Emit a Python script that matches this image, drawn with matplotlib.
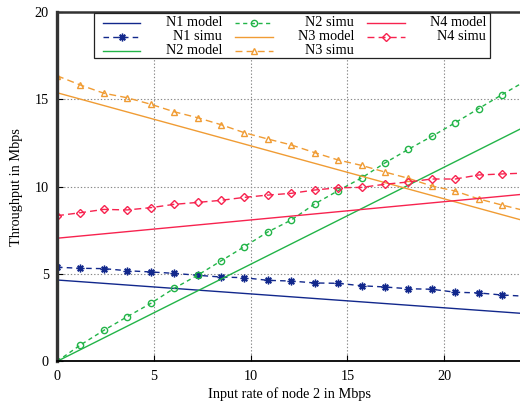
import matplotlib.pyplot as plt
from matplotlib.patches import Rectangle
from matplotlib.lines import Line2D

plt.rcParams['font.family'] = ['Liberation Serif', 'DejaVu Serif']
plt.rcParams['font.size'] = 10.3

# ---- data ----
x_simu = [0, 1.21, 2.42, 3.63, 4.84, 6.05, 7.26, 8.47, 9.68, 10.89, 12.1,
          13.31, 14.52, 15.73, 16.94, 18.15, 19.36, 20.57, 21.78, 22.99, 24.2]
n1_simu = [5.39, 5.33, 5.31, 5.19, 5.12, 5.04, 4.93, 4.83, 4.79, 4.64, 4.60,
           4.49, 4.47, 4.33, 4.26, 4.16, 4.13, 3.96, 3.92, 3.80, 3.73]
n2_simu = [0.0, 0.94, 1.78, 2.56, 3.32, 4.18, 4.93, 5.75, 6.57, 7.41, 8.09,
           9.01, 9.77, 10.50, 11.36, 12.14, 12.88, 13.66, 14.47, 15.27, 16.05]
n3_simu = [16.35, 15.82, 15.35, 15.09, 14.72, 14.29, 13.95, 13.55, 13.09, 12.73, 12.39,
           11.95, 11.53, 11.22, 10.84, 10.48, 10.04, 9.75, 9.30, 8.95, 8.62]
n4_simu = [8.34, 8.51, 8.70, 8.67, 8.80, 8.99, 9.10, 9.22, 9.39, 9.52, 9.62,
           9.81, 9.94, 9.96, 10.14, 10.27, 10.44, 10.44, 10.67, 10.73, 10.78]

x_model = [0, 24]
n1_model = [4.66, 2.75]
n2_model = [0.0, 13.34]
n3_model = [15.38, 8.09]
n4_model = [7.05, 9.56]

c1, c2, c3, c4 = '#12288c', '#22b448', '#f09c34', '#f7234f'
msz = {(8, 2, 0): 5.5, 'o': 4.5, '^': 5, 'D': 3.8}

W, H = 520, 404
fig = plt.figure(figsize=(W / 100, H / 100), dpi=100)
ax = fig.add_axes([57 / W, 1 - 361.4 / H, (521.6 - 57) / W, (361.4 - 12) / H])

# model (solid) and simulation (dashed + markers)
ax.plot(x_model, n1_model, color=c1, lw=1.0)
ax.plot(x_simu, n1_simu, color=c1, lw=1.0, dashes=(4, 3), marker=(8, 2, 0),
        ms=msz[(8, 2, 0)], mew=1.0)
ax.plot(x_model, n2_model, color=c2, lw=1.0)
ax.plot(x_simu, n2_simu, color=c2, lw=1.0, dashes=(3, 2.5), marker='o', ms=msz['o'],
        mfc='none', mew=1.0)
ax.plot(x_model, n3_model, color=c3, lw=1.0)
ax.plot(x_simu, n3_simu, color=c3, lw=1.0, dashes=(5, 3), marker='^', ms=msz['^'],
        mfc='none', mew=1.0)
ax.plot(x_model, n4_model, color=c4, lw=1.0)
ax.plot(x_simu, n4_simu, color=c4, lw=1.0, dashes=(5, 3), marker='D', ms=msz['D'],
        mfc='none', mew=1.0)

ax.set_xlim(0, 24)
ax.set_ylim(0, 20)
ax.set_xticks([0, 5, 10, 15, 20])
ax.set_yticks([0, 5, 10, 15, 20])
ax.grid(True, color='#888888', lw=0.8, dashes=(1.2, 1.8))
ax.tick_params(direction='in', length=4, top=True, right=False)
ax.tick_params(axis='x', pad=6.5)
ax.tick_params(axis='y', pad=6)
ax.set_xlabel('Input rate of node 2 in Mbps', labelpad=3)
ax.set_ylabel('Throughput in Mbps', labelpad=8)

ax.spines['left'].set_linewidth(2.4)
ax.spines['left'].set_color('#333333')
ax.spines['bottom'].set_linewidth(1.3)
ax.spines['top'].set_linewidth(1.8)
ax.spines['top'].set_color('#333333')
ax.spines['right'].set_visible(False)

# gnuplot style key: sample on the left, label right-aligned
def fx(px):
    return px / W

def fy(py):
    return 1 - py / H

fig.add_artist(Rectangle((fx(94), fy(57.5)), fx(490) - fx(94), fy(13.3) - fy(57.5),
                         transform=fig.transFigure, facecolor='white',
                         edgecolor='#222222', lw=0.9, zorder=5))

key = [
    ('N1 model', c1, None, None), ('N1 simu', c1, (8, 2, 0), (4, 3)),
    ('N2 model', c2, None, None), ('N2 simu', c2, 'o', (3, 2.5)),
    ('N3 model', c3, None, None), ('N3 simu', c3, '^', (5, 3)),
    ('N4 model', c4, None, None), ('N4 simu', c4, 'D', (5, 3)),
]
col_line = [(103, 140), (235, 273), (367, 405)]
col_text = [222, 354, 486]
row_y = [22.7, 36.5, 51]
for i, (lab, col, mk, ds) in enumerate(key):
    c, r = divmod(i, 3)
    x0, x1 = col_line[c]
    y = row_y[r]
    ln = Line2D([fx(x0), fx(x1)], [fy(y), fy(y)], transform=fig.transFigure,
                color=col, lw=1.0, zorder=6)
    if ds is not None:
        ln.set_dashes(ds)
    fig.add_artist(ln)
    if mk is not None:
        fig.add_artist(Line2D([fx((x0 + x1) / 2)], [fy(y)], transform=fig.transFigure,
                              color=col, marker=mk, ms=msz[mk], mfc='none', mew=1.0,
                              linestyle='none', zorder=7))
    fig.text(fx(col_text[c]), fy(y), lab, ha='right', va='center', zorder=7)

fig.savefig('out.png', dpi=100)
